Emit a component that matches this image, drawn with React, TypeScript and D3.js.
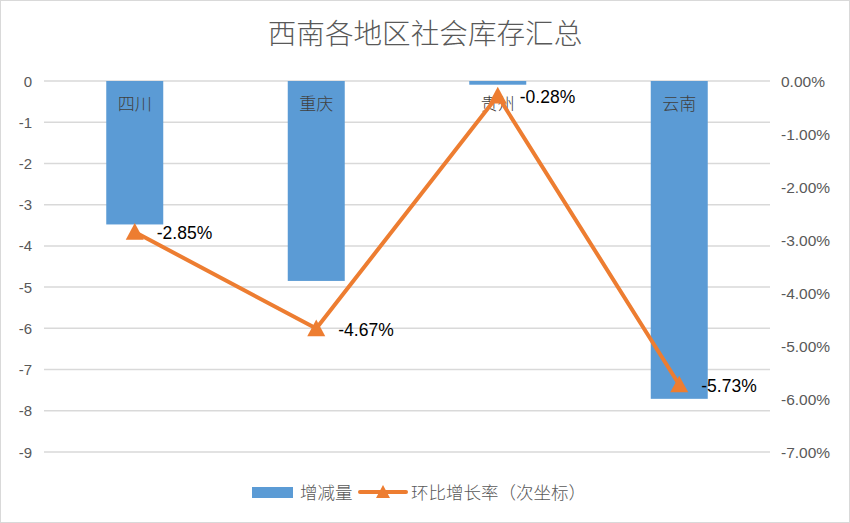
import React from "react";
import * as d3 from "d3";

const categories = ["四川", "重庆", "贵州", "云南"];
const changeValues = [-3.48, -4.85, -0.09, -7.71];
const growthRates = [-0.0285, -0.0467, -0.0028, -0.0573];
const leftTicks = [0, -1, -2, -3, -4, -5, -6, -7, -8, -9];
const rightTicks = [0, -0.01, -0.02, -0.03, -0.04, -0.05, -0.06, -0.07];
const title = "西南各地区社会库存汇总";
const seriesNames = ["增减量", "环比增长率（次坐标）"];

const W = 850;
const H = 523;
const plot = { left: 44, right: 770, top: 81, bottom: 452 };
const BLUE = "#5B9BD5";
const ORANGE = "#ED7D31";
const AXIS_TEXT = "#595959";
const CJK = "'Noto Sans CJK SC', 'Noto Sans', sans-serif";
const NUM = "'Liberation Sans', 'Noto Sans', sans-serif";

export default function App() {
  const x = d3.scaleBand<string>().domain(categories).range([plot.left, plot.right]).paddingInner(0.686).paddingOuter(0.343);
  const xc = d3.scaleBand<string>().domain(categories).range([plot.left, plot.right]);
  const yL = d3.scaleLinear().domain([0, -9]).range([plot.top, plot.bottom]);
  const yR = d3.scaleLinear().domain([0, -0.07]).range([plot.top, plot.bottom]);
  const cx = (c: string) => (xc(c) as number) + xc.bandwidth() / 2;
  const line = d3
    .line<number>()
    .x((_, i) => cx(categories[i]))
    .y((d) => yR(d));
  const pct = (v: number) => d3.format(".2%")(v).replace("\u2212", "-");
  const tri = (px: number, py: number, s = 9) =>
    `M${px},${py - s} L${px + s},${py + s * 0.85} L${px - s},${py + s * 0.85} Z`;

  return (
    <div style={{ position: "absolute", left: 0, top: 0 }}>
      <svg width={W} height={H} style={{ display: "block" }}>
        <rect x={0.5} y={0.5} width={W - 1} height={H - 1} fill="#fff" stroke="#d9d9d9" />
        <text x={425} y={44} textAnchor="middle" fontFamily={CJK} fontWeight={300} fontSize={28.6} fill={AXIS_TEXT}>
          {title}
        </text>
        {leftTicks.map((t) => (
          <line key={"g" + t} x1={plot.left} x2={plot.right} y1={yL(t)} y2={yL(t)} stroke="#d9d9d9" strokeWidth={1.5} />
        ))}
        {leftTicks.map((t) => (
          <text key={"l" + t} x={32} y={yL(t) + 5.5} textAnchor="end" fontFamily={NUM} fontSize={15} fill={AXIS_TEXT}>
            {String(t)}
          </text>
        ))}
        {rightTicks.map((t) => (
          <text key={"r" + t} x={781} y={yR(t) + 5.5} textAnchor="start" fontFamily={NUM} fontSize={15.5} fill={AXIS_TEXT}>
            {pct(t)}
          </text>
        ))}
        {changeValues.map((v, i) => (
          <rect
            key={"b" + i}
            x={x(categories[i])}
            y={yL(0)}
            width={x.bandwidth()}
            height={yL(v) - yL(0)}
            fill={BLUE}
          />
        ))}
        {categories.map((c) => (
          <text key={"c" + c} x={cx(c)} y={110} textAnchor="middle" fontFamily={CJK} fontWeight={300} fontSize={17} fill="#404040">
            {c}
          </text>
        ))}
        <path d={line(growthRates) as string} fill="none" stroke={ORANGE} strokeWidth={4} strokeLinejoin="round" />
        {growthRates.map((v, i) => (
          <path key={"m" + i} d={tri(cx(categories[i]), yR(v))} fill={ORANGE} />
        ))}
        {growthRates.map((v, i) => (
          <text key={"d" + i} x={cx(categories[i]) + 22} y={yR(v) + 7} fontFamily={NUM} fontSize={17.5} fill="#000">
            {pct(v)}
          </text>
        ))}
        <rect x={252} y={487} width={41} height={11} fill={BLUE} />
        <text x={300} y={499} fontFamily={CJK} fontWeight={300} fontSize={17.5} fill={AXIS_TEXT}>
          {seriesNames[0]}
        </text>
        <line x1={360} x2={406} y1={492} y2={492} stroke={ORANGE} strokeWidth={4} strokeLinecap="round" />
        <path d={tri(383, 492, 7)} fill={ORANGE} />
        <text x={411} y={499} fontFamily={CJK} fontWeight={300} fontSize={17.5} fill={AXIS_TEXT}>
          {seriesNames[1]}
        </text>
      </svg>
    </div>
  );
}
